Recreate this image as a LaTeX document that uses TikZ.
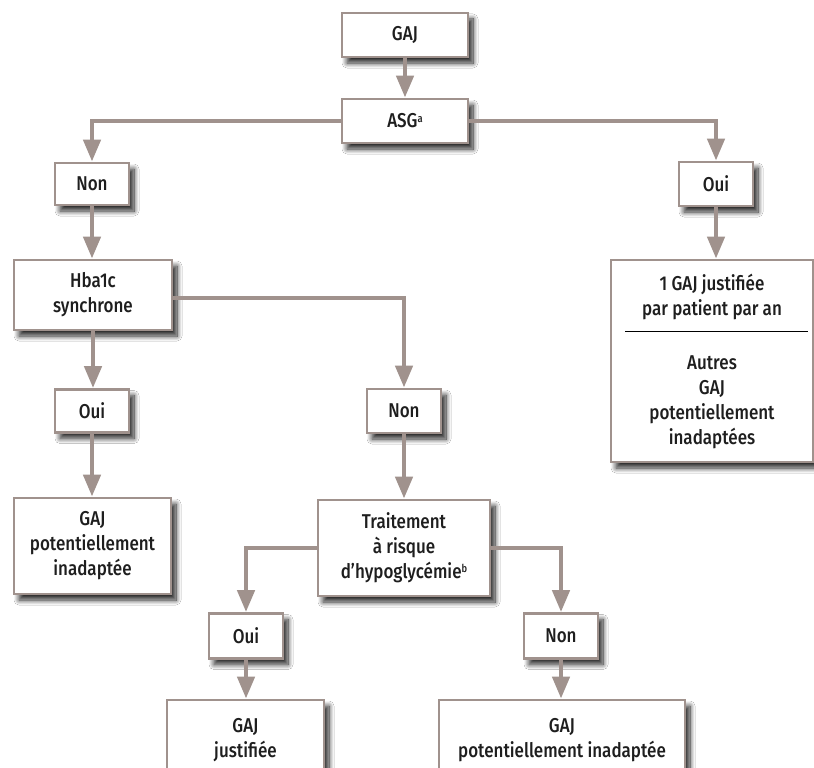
\documentclass[tikz,border=0pt]{standalone}
\usepackage{fontspec}
\setmainfont{Fira Sans}[FakeStretch=0.85, UprightFont=* Medium]
\usetikzlibrary{arrows.meta,shadows.blur,calc}
\definecolor{lnc}{RGB}{160,146,141}
\definecolor{txc}{RGB}{30,30,30}
\newcommand{\supmark}[1]{\raisebox{0.55ex}{\fontsize{11}{11}\selectfont #1}}
\begin{document}
\begin{tikzpicture}[x=1pt,y=-1pt,
  box/.style={draw=lnc, line width=2.8pt, fill=white, text=txc, align=center,
    inner sep=0pt, font=\fontsize{20}{25}\selectfont,
    blur shadow={shadow xshift=5pt, shadow yshift=-6pt, shadow blur radius=5pt,
      shadow blur steps=12, shadow opacity=85}},
  txt/.style={text=txc, align=center, inner sep=0pt, font=\fontsize{20}{25}\selectfont},
  conn/.style={draw=lnc, line width=4.5pt, -{Triangle[width=17pt,length=22pt]}}]
\useasboundingbox (0,0) rectangle (814,768);
\fill[white] (0,0) rectangle (814,768);

\node[box, minimum width=126, minimum height=44] (gaj) at (405,35) {GAJ};
\node[box, minimum width=126, minimum height=44] (asg) at (405,121) {ASG\supmark{a}};
\node[box, minimum width=74, minimum height=42] (non1) at (92,184) {Non};
\node[box, minimum width=74, minimum height=44] (oui1) at (716,184) {Oui};
\node[box, minimum width=158, minimum height=70] (hba) at (93,295) {Hba1c\\synchrone};
\node[box, minimum width=202, minimum height=202] (just1) at (712,361) {};
\node[box, minimum width=74, minimum height=43] (oui2) at (92,411) {Oui};
\node[box, minimum width=74, minimum height=44] (non2) at (404,411) {Non};
\node[box, minimum width=157, minimum height=96] (pot1) at (92.5,546) {GAJ\\potentiellement\\inadaptée};
\node[box, minimum width=172, minimum height=96] (trt) at (404,548) {Traitement\\à risque\\d’hypoglycémie\supmark{b}};
\node[box, minimum width=74, minimum height=45] (oui3) at (246,636) {Oui};
\node[box, minimum width=74, minimum height=45] (non3) at (561,636) {Non};
\node[box, minimum width=157, minimum height=80] (just2) at (245.5,740) {GAJ\\justifiée};
\node[box, minimum width=246, minimum height=80] (pot2) at (562,740) {GAJ\\potentiellement inadaptée};

\node[txt] (jt) at (712,297) {1 GAJ justifiée\\par patient par an};
\node[txt] (jb) at (712,402) {Autres\\GAJ\\potentiellement\\inadaptées};
\coordinate (sepl) at (625,331);
\coordinate (sepr) at (808,331);
\draw[black, line width=1pt] (sepl) -- (sepr);

\draw[conn] (gaj) -- (asg);
\draw[conn] (asg.west) -| (non1.north);
\draw[conn] (asg.east) -| (oui1.north);
\draw[conn] (non1.south) -- (non1.south |- hba.north);
\draw[conn] (oui1.south) -- (oui1.south |- just1.north);
\draw[conn] ($(hba.east)+(0,3)$) -| (non2.north);
\draw[conn] (hba.south) -- (hba.south |- oui2.north);
\draw[conn] (oui2.south) -- (oui2.south |- pot1.north);
\draw[conn] (non2) -- (trt);
\draw[conn] (trt.west) -| (oui3.north);
\draw[conn] (trt.east) -| (non3.north);
\draw[conn] (oui3.south) -- (oui3.south |- just2.north);
\draw[conn] (non3.south) -- (non3.south |- pot2.north);
\end{tikzpicture}
\end{document}
